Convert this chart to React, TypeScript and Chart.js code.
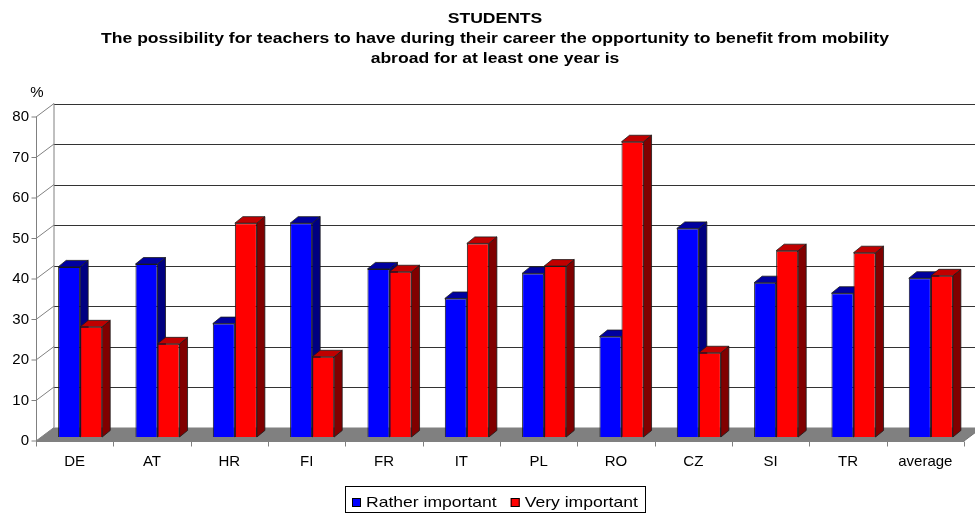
import React, { useEffect, useRef } from "react";
import { Chart, registerables } from "chart.js";

Chart.register(...registerables);

const titleLines = [
  "STUDENTS",
  "The possibility for teachers to have during their career the opportunity to benefit from mobility",
  "abroad for at least one year is",
];
const categories = ["DE", "AT", "HR", "FI", "FR", "IT", "PL", "RO", "CZ", "SI", "TR", "average"];
const ratherImportant = [42, 42.7, 28, 52.8, 41.5, 34.2, 40.4, 24.8, 51.5, 38.1, 35.5, 39.2];
const veryImportant = [27.2, 23, 52.8, 19.8, 40.8, 47.8, 42.2, 72.9, 20.8, 46, 45.5, 39.8];
const yTicks = [0, 10, 20, 30, 40, 50, 60, 70, 80];
const yUnit = "%";

const FONT = "'Liberation Sans', Arial, sans-serif";
// perspective offsets relative to the plane the bars stand in
const FRONT = { dx: -5.5, dy: 4 };
const BACK = { dx: 12.5, dy: -9.5 };
const BAR_DEPTH = { dx: 8, dy: -6.5 };
// title and legend text is set a little wide
const WIDE = 1.17;

const faceColors = [
  { top: "#0000A0", side: "#000080" },
  { top: "#C00000", side: "#800000" },
];

function poly(ctx: CanvasRenderingContext2D, pts: number[][], fill: string, stroke?: string) {
  ctx.beginPath();
  ctx.moveTo(pts[0][0], pts[0][1]);
  for (let i = 1; i < pts.length; i++) ctx.lineTo(pts[i][0], pts[i][1]);
  ctx.closePath();
  ctx.fillStyle = fill;
  ctx.fill();
  if (stroke) {
    ctx.strokeStyle = stroke;
    ctx.lineWidth = 0.8;
    ctx.stroke();
  }
}

function line(ctx: CanvasRenderingContext2D, x1: number, y1: number, x2: number, y2: number, color: string) {
  ctx.beginPath();
  ctx.moveTo(x1, y1);
  ctx.lineTo(x2, y2);
  ctx.strokeStyle = color;
  ctx.lineWidth = 1;
  ctx.stroke();
}

// draws text stretched horizontally; returns the drawn width
function wideText(ctx: CanvasRenderingContext2D, text: string, x: number, y: number, align: "left" | "center") {
  const w = ctx.measureText(text).width * WIDE;
  const startX = align === "center" ? x - w / 2 : x;
  ctx.save();
  ctx.textAlign = "left";
  ctx.translate(startX, y);
  ctx.scale(WIDE, 1);
  ctx.fillText(text, 0, 0);
  ctx.restore();
  return w;
}

const scene3d = {
  id: "scene3d",
  beforeDatasetsDraw(chart: any) {
    const { ctx, chartArea, scales } = chart;
    const xs = scales.x;
    const ys = scales.y;
    const left = chartArea.left;
    const right = chartArea.right;
    const y0 = ys.getPixelForValue(0);
    const yTop = ys.getPixelForValue(yTicks[yTicks.length - 1]);
    ctx.save();

    // back wall gridlines
    yTicks.forEach((v) => {
      if (v === 0) return;
      const yy = Math.round(ys.getPixelForValue(v) + BACK.dy) + 0.5;
      line(ctx, left + BACK.dx, yy, right + BACK.dx + 10, yy, "#333333");
    });
    line(ctx, left + BACK.dx, yTop + BACK.dy, left + BACK.dx, y0 + BACK.dy, "#808080");

    // side wall diagonals
    yTicks.forEach((v) => {
      const yy = ys.getPixelForValue(v);
      line(ctx, left + FRONT.dx, yy + FRONT.dy, left + BACK.dx, yy + BACK.dy, "#808080");
    });

    // floor
    poly(
      ctx,
      [
        [left + FRONT.dx, y0 + FRONT.dy],
        [right + FRONT.dx, y0 + FRONT.dy],
        [right + BACK.dx, y0 + BACK.dy],
        [left + BACK.dx, y0 + BACK.dy],
      ],
      "#808080"
    );
    line(ctx, right + FRONT.dx, y0 + FRONT.dy, right + BACK.dx, y0 + BACK.dy, "#707070");

    // front value axis with ticks
    const ax = Math.round(left + FRONT.dx) + 0.5;
    line(ctx, ax, yTop + FRONT.dy, ax, y0 + FRONT.dy, "#808080");
    yTicks.forEach((v) => {
      const yy = ys.getPixelForValue(v) + FRONT.dy;
      line(ctx, ax - 5, yy, ax, yy, "#808080");
    });

    // front category axis with ticks between categories
    const by = Math.round(y0 + FRONT.dy) + 0.5;
    line(ctx, left + FRONT.dx, by, right + FRONT.dx, by, "#808080");
    for (let i = 0; i <= categories.length; i++) {
      const tx = Math.round(xs.getPixelForValue(i - 0.5) + FRONT.dx) + 0.5;
      line(ctx, tx, by, tx, by + 5, "#808080");
    }

    // side and top faces of the columns (front faces are drawn by the bar controller)
    for (let i = 0; i < categories.length; i++) {
      for (let d = 0; d < chart.data.datasets.length; d++) {
        const el = chart.getDatasetMeta(d).data[i];
        if (!el) continue;
        const p = el.getProps(["x", "y", "base", "width"], true);
        const x0 = p.x - p.width / 2;
        const x1 = p.x + p.width / 2;
        const c = faceColors[d];
        poly(
          ctx,
          [
            [x1, p.y],
            [x1 + BAR_DEPTH.dx, p.y + BAR_DEPTH.dy],
            [x1 + BAR_DEPTH.dx, p.base + BAR_DEPTH.dy],
            [x1, p.base],
          ],
          c.side,
          "#1a1a1a"
        );
        poly(
          ctx,
          [
            [x0, p.y],
            [x0 + BAR_DEPTH.dx, p.y + BAR_DEPTH.dy],
            [x1 + BAR_DEPTH.dx, p.y + BAR_DEPTH.dy],
            [x1, p.y],
          ],
          c.top,
          "#1a1a1a"
        );
      }
    }
    ctx.restore();
  },
  afterDraw(chart: any) {
    const { ctx, scales } = chart;
    const xs = scales.x;
    const ys = scales.y;
    ctx.save();
    ctx.fillStyle = "#000";

    // title
    ctx.font = `bold 15px ${FONT}`;
    ctx.textBaseline = "alphabetic";
    const titleBase = [23, 43, 63];
    titleLines.forEach((t, i) => wideText(ctx, t, 495, titleBase[i], "center"));

    // value axis labels
    ctx.font = `15px ${FONT}`;
    ctx.textAlign = "right";
    ctx.textBaseline = "middle";
    yTicks.forEach((v) => {
      ctx.fillText(String(v), 29, ys.getPixelForValue(v) + FRONT.dy);
    });
    ctx.textAlign = "center";
    ctx.fillText(yUnit, 37, 93);

    // category labels
    ctx.textBaseline = "alphabetic";
    categories.forEach((c, i) => {
      ctx.fillText(c, xs.getPixelForValue(i) + FRONT.dx, 466);
    });

    // legend
    const lx = 345.5;
    const ly = 486.5;
    ctx.strokeStyle = "#000";
    ctx.lineWidth = 1;
    ctx.strokeRect(lx, ly, 300, 26);
    ctx.font = `15px ${FONT}`;
    let cx = 352;
    chart.data.datasets.forEach((ds: any) => {
      ctx.fillStyle = ds.backgroundColor;
      ctx.fillRect(cx, 498, 9, 9);
      ctx.strokeStyle = "#000";
      ctx.strokeRect(cx + 0.5, 498.5, 8, 8);
      ctx.fillStyle = "#000";
      const w = wideText(ctx, ds.label, cx + 14, 507, "left");
      cx += 14 + w + 14;
    });
    ctx.restore();
  },
};

export default function App() {
  const canvasRef = useRef<HTMLCanvasElement | null>(null);

  useEffect(() => {
    const canvas = canvasRef.current;
    if (!canvas) return;
    const chart = new Chart(canvas, {
      type: "bar",
      data: {
        labels: categories,
        datasets: [
          {
            label: "Rather important",
            data: ratherImportant,
            backgroundColor: "#0000FF",
            borderColor: "#1a1a1a",
            borderWidth: 1,
          },
          {
            label: "Very important",
            data: veryImportant,
            backgroundColor: "#FF0000",
            borderColor: "#1a1a1a",
            borderWidth: 1,
          },
        ],
      },
      options: {
        responsive: false,
        animation: false,
        devicePixelRatio: 1,
        layout: { padding: { left: 41.5, right: 5.5, top: 113, bottom: 77 } },
        datasets: { bar: { categoryPercentage: 0.57, barPercentage: 1 } },
        scales: {
          x: { display: false, grid: { display: false } },
          y: { display: false, min: 0, max: 80, grid: { display: false } },
        },
        plugins: {
          legend: { display: false },
          title: { display: false },
          tooltip: { enabled: false },
        },
      },
      plugins: [scene3d],
    });
    return () => chart.destroy();
  }, []);

  return (
    <div style={{ position: "absolute", left: 0, top: 0, width: 975, height: 514, background: "#fff" }}>
      <canvas ref={canvasRef} width={975} height={514} style={{ display: "block" }} />
    </div>
  );
}
